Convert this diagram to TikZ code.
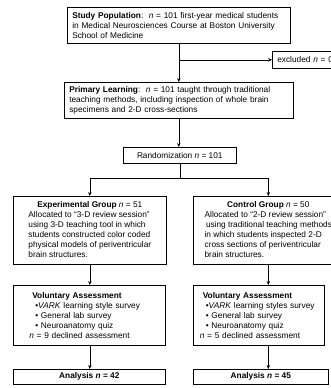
\documentclass[tikz,border=0pt]{standalone}
\usepackage{fontspec}
\setmainfont{Liberation Sans}
\usetikzlibrary{arrows.meta, calc}

\begin{document}
\begin{tikzpicture}[x=1pt, y=-1pt, >={Stealth[length=4pt, width=3.5pt]}, line width=0.6pt,
  every node/.style={font=\fontsize{8.3}{10}\selectfont},
  box/.style={draw, anchor=north west, inner xsep=5pt, inner ysep=2pt, align=left},
  midbox/.style={draw, anchor=north west, inner sep=2pt, align=center}]
  \useasboundingbox (0,0) rectangle (331,388);
  % top of the flow
  \node[box, text width=213pt, minimum height=36pt] (study) at (67,7) {\textbf{Study Population}:\, \textit{n} = 101 first-year medical students\\ in Medical Neurosciences Course at Boston University\\ School of Medicine};
  \node[box, text width=60pt, minimum height=17pt] (excluded) at (272,51) {excluded \textit{n} = 0};
  \node[box, text width=219pt, minimum height=36pt] (primary) at (64,82) {\textbf{Primary Learning}:\, \textit{n} = 101 taught through traditional\\ teaching methods, including inspection of whole brain\\ specimens and 2-D cross-sections};
  \node[midbox, minimum width=113pt, minimum height=16pt] (rand) at (123,147) {Randomization \textit{n} = 101};
  % two arms
  \node[midbox, minimum width=153pt, minimum height=68pt] (exp) at (13,196) {\begin{tabular}{@{}l@{}}\multicolumn{1}{@{}c@{}}{\textbf{Experimental Group} \textit{n} = 51}\\ Allocated to ``3-D review session''\\ using 3-D teaching tool in which\\ students constructed color coded\\ physical models of periventricular\\ brain structures.\end{tabular}};
  \node[midbox, minimum width=150pt, minimum height=68pt] (ctrl) at (193,196) {\begin{tabular}{@{}l@{}}\multicolumn{1}{@{}c@{}}{\textbf{Control Group} \textit{n} = 50}\\ Allocated to ``2-D review session''\\ \,using traditional teaching methods\\ in which students inspected 2-D\\ cross sections of periventricular\\ brain structures.\end{tabular}};
  \node[box, inner xsep=16pt, text width=120pt, minimum height=60pt] (evol) at (13,285) {\hspace*{3pt}\textbf{Voluntary Assessment}\\ \hspace*{6pt}\textbullet\textit{VARK} learning style survey\\ \hspace*{6pt}\textbullet{} General lab survey\\ \hspace*{6pt}\textbullet{} Neuroanatomy quiz\\ \textit{n} = 9 declined assessment};
  \node[box, inner xsep=6.5pt, text width=118pt, minimum height=60pt] (cvol) at (193,285) {\hspace*{3pt}\textbf{Voluntary Assessment}\\ \hspace*{6pt}\textbullet\textit{VARK} learning styles survey\\ \hspace*{6pt}\textbullet{} General lab survey\\ \hspace*{6pt}\textbullet{} Neuroanatomy quiz\\ \textit{n} = 5 declined assessment};
  \node[midbox, minimum width=152pt, minimum height=15pt] (eana) at (13,369) {\textbf{Analysis \textit{n} = 42}};
  \node[midbox, minimum width=135pt, minimum height=15pt] (cana) at (193,369) {\textbf{Analysis \textit{n} = 45}};
  % connectors
  \coordinate (branch) at (study.south |- excluded.west);
  \coordinate (split) at ($(rand.south)+(0,15)$);
  \draw[->] (study.south) -- (primary.north);
  \draw[->] (branch) -- (excluded.west);
  \draw[->] (primary.south) -- (primary.south |- rand.north);
  \draw (rand.south) -- (split);
  \draw[->] (split) -| (exp.north);
  \draw[->] (split) -| (ctrl.north);
  \draw[->] (exp.south) -- (exp.south |- evol.north);
  \draw[->] (exp.south |- evol.south) -- (exp.south |- eana.north);
  \draw[->] (ctrl.south) -- (ctrl.south |- cvol.north);
  \draw[->] (ctrl.south |- cvol.south) -- (ctrl.south |- cana.north);
\end{tikzpicture}
\end{document}
